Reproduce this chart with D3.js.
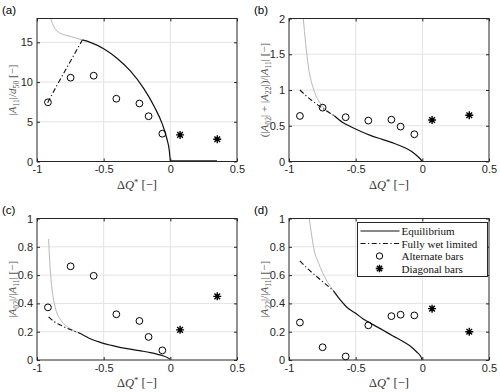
<!DOCTYPE html>
<html>
<head>
<meta charset="utf-8">
<script src="https://cdn.jsdelivr.net/npm/d3@7"></script>
<style>
  body { margin: 0; background: #fff; }
  svg { display: block; }
</style>
</head>
<body>
<svg id="chart" width="500" height="392"></svg>
<script>
// experiment positions (shared by all panels)
var xAlt = [-0.918, -0.748, -0.575, -0.405, -0.232, -0.163, -0.06];
var xDiag = [0.073, 0.352];
var xTicks = [-1, -0.5, 0, 0.5];

// (a) |A11|/d50
var altA = [7.45, 10.55, 10.8, 7.9, 7.3, 5.7, 3.5];
var diagA = [3.35, 2.8];
var eqA = [[-0.66, 15.3], [-0.6, 15.0], [-0.5, 14.2], [-0.4, 13.0], [-0.3, 11.4], [-0.2, 9.2], [-0.12, 6.9], [-0.06, 4.7], [-0.025, 2.8], [-0.008, 1.4], [0, 0]];
var flatA = [[0, 0], [0.35, 0]];
var wetA = [[-0.92, 7.4], [-0.85, 9.6], [-0.78, 11.7], [-0.72, 13.5], [-0.66, 15.3]];
var grayA = [[-0.897, 18], [-0.885, 17.4], [-0.86, 16.6], [-0.82, 16.1], [-0.75, 15.75], [-0.66, 15.3]];

// (b) (|A02|+|A22|)/|A11|
var altB = [0.637, 0.753, 0.619, 0.572, 0.585, 0.488, 0.381];
var diagB = [0.58, 0.647];
var eqB = [[-0.66, 0.64], [-0.6, 0.55], [-0.54, 0.49], [-0.46, 0.42], [-0.39, 0.365], [-0.3, 0.31], [-0.22, 0.26], [-0.14, 0.2], [-0.08, 0.14], [-0.04, 0.08], [-0.015, 0.035], [0, 0]];
var wetB = [[-0.918, 1.0], [-0.86, 0.9], [-0.79, 0.8], [-0.72, 0.71], [-0.66, 0.64]];
var grayB = [[-0.893, 2.0], [-0.875, 1.65], [-0.855, 1.33], [-0.83, 1.1], [-0.8, 0.93], [-0.755, 0.79], [-0.71, 0.7], [-0.66, 0.64]];

// (c) |A02|/|A11|
var altC = [0.372, 0.662, 0.595, 0.323, 0.276, 0.163, 0.068];
var diagC = [0.213, 0.45];
var eqC = [[-0.67, 0.186], [-0.6, 0.15], [-0.52, 0.123], [-0.44, 0.103], [-0.37, 0.088], [-0.29, 0.075], [-0.22, 0.064], [-0.15, 0.052], [-0.095, 0.04], [-0.05, 0.028], [-0.02, 0.016], [0, 0.005]];
var wetC = [[-0.913, 0.305], [-0.87, 0.27], [-0.82, 0.245], [-0.75, 0.215], [-0.67, 0.186]];
var grayC = [[-0.913, 0.855], [-0.905, 0.7], [-0.895, 0.57], [-0.88, 0.45], [-0.86, 0.36], [-0.82, 0.28], [-0.78, 0.24], [-0.73, 0.21], [-0.67, 0.186]];

// (d) |A22|/|A11|
var altD = [0.265, 0.09, 0.025, 0.245, 0.31, 0.32, 0.315];
var diagD = [0.363, 0.2];
var eqD = [[-0.668, 0.49], [-0.62, 0.43], [-0.568, 0.375], [-0.5, 0.33], [-0.443, 0.29], [-0.37, 0.25], [-0.294, 0.21], [-0.22, 0.17], [-0.144, 0.13], [-0.08, 0.09], [-0.04, 0.055], [-0.015, 0.03], [0, 0]];
var wetD = [[-0.918, 0.70], [-0.86, 0.645], [-0.793, 0.59], [-0.73, 0.54], [-0.668, 0.49]];
var grayD = [[-0.848, 1.0], [-0.83, 0.88], [-0.81, 0.77], [-0.78, 0.69], [-0.75, 0.62], [-0.71, 0.55], [-0.668, 0.49]];

var legendLabels = ["Equilibrium", "Fully wet limited", "Alternate bars", "Diagonal bars"];

var svg = d3.select("#chart");
var tickFont = "'Liberation Sans', Arial, sans-serif";
var texFont = "'Liberation Serif', 'DejaVu Serif', serif";

// MATLAB-ish asterisk: 4 crossed lines
var star8 = {
  draw: function(ctx, size) {
    var r = Math.sqrt(size) / 2, d = r * Math.SQRT1_2;
    ctx.moveTo(-r, 0); ctx.lineTo(r, 0);
    ctx.moveTo(0, -r); ctx.lineTo(0, r);
    ctx.moveTo(-d, -d); ctx.lineTo(d, d);
    ctx.moveTo(-d, d); ctx.lineTo(d, -d);
  }
};

// segments: [text, kind] kind: "" normal, "i" italic, "sub", "sup"
function richText(sel, segs) {
  var shift = 0;
  segs.forEach(function(s) {
    var t = sel.append("tspan").text(s[0]);
    var k = s[1] || "";
    var target = 0;
    if (k == "sub") target = 3;
    if (k == "sup") target = -4;
    if (target != shift) { t.attr("dy", target - shift); shift = target; }
    if (k == "sub" || k == "sup") t.attr("font-size", "0.7em");
    if (k == "i") t.attr("font-style", "italic");
  });
}

function drawPanel(p) {
  var g = svg.append("g");
  var x = d3.scaleLinear().domain([-1, 0.5]).range([p.left, p.right]);
  var y = d3.scaleLinear().domain(p.yDomain).range([p.bottom, p.top]);

  // grid
  g.selectAll(".gx").data(xTicks.slice(1, -1)).enter().append("line")
    .attr("x1", x).attr("x2", x).attr("y1", p.top).attr("y2", p.bottom)
    .attr("stroke", "#e3e3e3").attr("stroke-width", 1);
  g.selectAll(".gy").data(p.yTicks.filter(function(d) { return d > p.yDomain[0] && d < p.yDomain[1]; })).enter().append("line")
    .attr("y1", y).attr("y2", y).attr("x1", p.left).attr("x2", p.right)
    .attr("stroke", "#e3e3e3").attr("stroke-width", 1);

  var line = d3.line().x(function(d) { return x(d[0]); }).y(function(d) { return y(d[1]); }).curve(d3.curveMonotoneX);

  g.append("path").attr("d", line(p.gray)).attr("fill", "none").attr("stroke", "#b8b8b8").attr("stroke-width", 1);
  if (p.flat) {
    g.append("path").attr("d", d3.line().x(function(d) { return x(d[0]); }).y(function(d) { return y(d[1]) - 0.5; })(p.flat))
      .attr("fill", "none").attr("stroke", "#555").attr("stroke-width", 2);
  }
  g.append("path").attr("d", line(p.eq)).attr("fill", "none").attr("stroke", "#111").attr("stroke-width", 1.2);
  g.append("path").attr("d", line(p.wet)).attr("fill", "none").attr("stroke", "#111").attr("stroke-width", 1.1)
    .attr("stroke-dasharray", "5,2.5,1.2,2.5");

  g.selectAll(".alt").data(p.alt).enter().append("circle")
    .attr("cx", function(d, i) { return x(xAlt[i]); })
    .attr("cy", function(d) { return y(d); })
    .attr("r", 3.4).attr("fill", "none").attr("stroke", "#000").attr("stroke-width", 1);
  g.selectAll(".diag").data(p.diag).enter().append("path")
    .attr("transform", function(d, i) { return "translate(" + x(xDiag[i]) + "," + y(d) + ")"; })
    .attr("d", d3.symbol().type(star8).size(64))
    .attr("fill", "none").attr("stroke", "#000").attr("stroke-width", 1.4);
  g.selectAll(".diagc").data(p.diag).enter().append("circle")
    .attr("cx", function(d, i) { return x(xDiag[i]); })
    .attr("cy", function(d) { return y(d); })
    .attr("r", 1.8).attr("fill", "#000");

  // axes
  g.append("g").attr("transform", "translate(0," + p.bottom + ")")
    .call(d3.axisBottom(x).tickValues(xTicks).tickSizeInner(-3).tickSizeOuter(0).tickPadding(4)
      .tickFormat(function(d) { return String(d); }));
  g.append("g").attr("transform", "translate(" + p.left + ",0)")
    .call(d3.axisLeft(y).tickValues(p.yTicks).tickSizeInner(-3).tickSizeOuter(0).tickPadding(4)
      .tickFormat(function(d) { return String(d); }));
  g.append("g").attr("transform", "translate(0," + p.top + ")")
    .call(d3.axisTop(x).tickValues(xTicks).tickSizeInner(-3).tickSizeOuter(0).tickFormat(""));
  g.append("g").attr("transform", "translate(" + p.right + ",0)")
    .call(d3.axisRight(y).tickValues(p.yTicks).tickSizeInner(-3).tickSizeOuter(0).tickFormat(""));
  g.selectAll(".domain").remove();
  g.selectAll(".tick line").attr("stroke", "#262626");
  g.selectAll(".tick text").attr("font-family", tickFont).attr("font-size", 11).attr("fill", "#262626");
  g.append("rect").attr("x", p.left).attr("y", p.top).attr("width", p.right - p.left).attr("height", p.bottom - p.top)
    .attr("fill", "none").attr("stroke", "#262626").attr("stroke-width", 1);

  // labels
  g.append("text").attr("x", p.left - 35).attr("y", p.top - 5).attr("font-family", tickFont)
    .attr("font-size", 11.5).attr("fill", "#000").text(p.name);
  var xl = g.append("text").attr("x", (p.left + p.right) / 2).attr("y", p.bottom + 27)
    .attr("text-anchor", "middle").attr("font-family", texFont).attr("font-size", 12.5).attr("fill", "#333");
  richText(xl, [["\u0394", ""], ["Q", "i"], ["*", "sup"], [" [\u2212]", ""]]);
  var yl = g.append("text")
    .attr("transform", "translate(" + (p.left - 21) + "," + ((p.top + p.bottom) / 2) + ") rotate(-90)")
    .attr("text-anchor", "middle").attr("font-family", texFont).attr("font-size", 11).attr("fill", "#555");
  richText(yl, p.ylabel);
}

drawPanel({ name: "(a)", left: 37, right: 237, top: 18.5, bottom: 161.5, yDomain: [0, 18], yTicks: [0, 5, 10, 15],
  alt: altA, diag: diagA, eq: eqA, flat: flatA, wet: wetA, gray: grayA,
  ylabel: [["|", ""], ["A", "i"], ["11", "sub"], ["|/", ""], ["d", "i"], ["50", "sub"], [" [\u2212]", ""]] });
drawPanel({ name: "(b)", left: 289, right: 489, top: 18.5, bottom: 161.5, yDomain: [0, 2], yTicks: [0, 0.5, 1, 1.5, 2],
  alt: altB, diag: diagB, eq: eqB, wet: wetB, gray: grayB,
  ylabel: [["(|", ""], ["A", "i"], ["02", "sub"], ["| + |", ""], ["A", "i"], ["22", "sub"], ["|)/|", ""], ["A", "i"], ["11", "sub"], ["| [\u2212]", ""]] });
drawPanel({ name: "(c)", left: 37, right: 237, top: 218.5, bottom: 360, yDomain: [0, 1], yTicks: [0, 0.2, 0.4, 0.6, 0.8, 1],
  alt: altC, diag: diagC, eq: eqC, wet: wetC, gray: grayC,
  ylabel: [["|", ""], ["A", "i"], ["02", "sub"], ["|/|", ""], ["A", "i"], ["11", "sub"], ["| [\u2212]", ""]] });
drawPanel({ name: "(d)", left: 289, right: 489, top: 218.5, bottom: 360, yDomain: [0, 1], yTicks: [0, 0.2, 0.4, 0.6, 0.8, 1],
  alt: altD, diag: diagD, eq: eqD, wet: wetD, gray: grayD,
  ylabel: [["|", ""], ["A", "i"], ["22", "sub"], ["|/|", ""], ["A", "i"], ["11", "sub"], ["| [\u2212]", ""]] });

// legend in panel (d)
var lg = svg.append("g").attr("transform", "translate(357.5,222.5)");
lg.append("rect").attr("width", 130).attr("height", 54).attr("fill", "#fff").attr("stroke", "#262626").attr("stroke-width", 1);
var rows = lg.selectAll(".row").data(legendLabels).enter().append("g")
  .attr("transform", function(d, i) { return "translate(0," + (8.5 + i * 12.5) + ")"; });
rows.append("text").attr("x", 44).attr("y", 4).attr("font-family", texFont).attr("font-size", 11).attr("fill", "#111")
  .text(function(d) { return d; });
rows.filter(function(d, i) { return i < 2; }).append("line")
  .attr("x1", 3).attr("x2", 42).attr("y1", 0).attr("y2", 0)
  .attr("stroke", "#111").attr("stroke-width", 1.1)
  .attr("stroke-dasharray", function(d, i) { return i == 1 ? "5,2.5,1.2,2.5" : null; });
rows.filter(function(d, i) { return i == 2; }).append("circle").attr("cx", 22).attr("cy", 0).attr("r", 3.2)
  .attr("fill", "none").attr("stroke", "#000");
rows.filter(function(d, i) { return i == 3; }).append("path").attr("transform", "translate(22,0)")
  .attr("d", d3.symbol().type(star8).size(56)).attr("fill", "none").attr("stroke", "#000").attr("stroke-width", 1.4);
rows.filter(function(d, i) { return i == 3; }).append("circle").attr("cx", 22).attr("cy", 0).attr("r", 1.6).attr("fill", "#000");
</script>
</body>
</html>
